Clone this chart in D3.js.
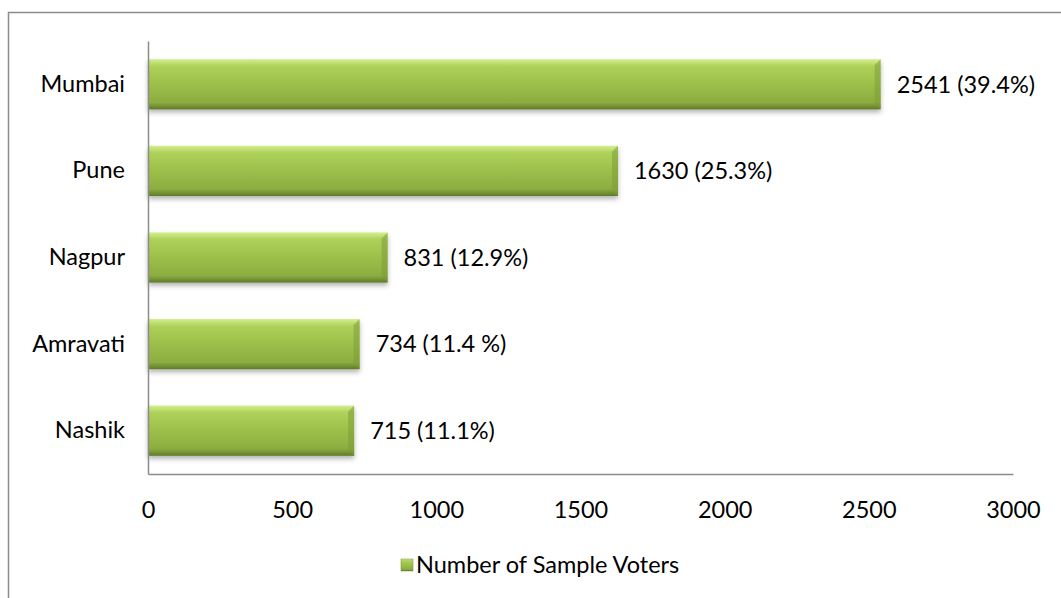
<!DOCTYPE html>
<html>
<head>
<meta charset="utf-8">
<script src="https://cdn.jsdelivr.net/npm/d3@7"></script>
<style>
  body { margin: 0; background: #fff; }
  svg text { font-family: Lato, "Open Sans", sans-serif; fill: #000; }
</style>
</head>
<body>
<svg id="chart"></svg>
<script>
// Chart data
const cities = ["Mumbai", "Pune", "Nagpur", "Amravati", "Nashik"];
const voters = [2541, 1630, 831, 734, 715];
const barLabels = ["2541 (39.4%)", "1630 (25.3%)", "831 (12.9%)", "734 (11.4 %)", "715 (11.1%)"];
const xTicks = [0, 500, 1000, 1500, 2000, 2500, 3000];
const seriesName = "Number of Sample Voters";

const width = 1061, height = 598;
const margin = {top: 41, left: 148, right: 48, bottom: 124};
const fontSize = "23.5px";

const svg = d3.select("#chart")
    .attr("width", width)
    .attr("height", height);

// Gradient for the bevelled bars
const defs = svg.append("defs");
const grad = defs.append("linearGradient")
    .attr("id", "barGrad")
    .attr("x1", 0).attr("y1", 0).attr("x2", 0).attr("y2", 1);
grad.append("stop").attr("offset", "0%").attr("stop-color", "#d3ef8e");
grad.append("stop").attr("offset", "14%").attr("stop-color", "#aed15a");
grad.append("stop").attr("offset", "50%").attr("stop-color", "#9cbf4a");
grad.append("stop").attr("offset", "86%").attr("stop-color", "#8cad40");
grad.append("stop").attr("offset", "100%").attr("stop-color", "#5f7a2a");

const shadow = defs.append("filter").attr("id", "shadow")
    .attr("x", "-5%").attr("y", "-20%").attr("width", "110%").attr("height", "150%");
shadow.append("feDropShadow")
    .attr("dx", 0).attr("dy", 3).attr("stdDeviation", 2.5)
    .attr("flood-color", "#000").attr("flood-opacity", 0.3);

// Outer frame
svg.append("rect")
    .attr("x", 8.5).attr("y", 12.5)
    .attr("width", width).attr("height", height)
    .attr("fill", "none")
    .attr("stroke", "#8c8c8c")
    .attr("stroke-width", 1.5);

// Scales
const xScale = d3.scaleLinear()
    .domain([0, 3000])
    .range([margin.left, width - margin.right]);

const yScale = d3.scaleBand()
    .domain(cities)
    .range([margin.top, height - margin.bottom])
    .paddingInner(0.42)
    .paddingOuter(0.21);

const plotBottom = height - margin.bottom;

// Bars
const data = cities.map((c, i) => ({city: c, value: voters[i], label: barLabels[i]}));

const bars = svg.append("g").selectAll("g")
    .data(data)
    .join("g");

bars.append("rect")
    .attr("x", xScale(0))
    .attr("y", d => yScale(d.city))
    .attr("width", d => xScale(d.value) - xScale(0))
    .attr("height", yScale.bandwidth())
    .attr("fill", "url(#barGrad)")
    .attr("filter", "url(#shadow)");

// Bevel on the right end
bars.append("path")
    .attr("d", d => {
        const x1 = xScale(d.value), y0 = yScale(d.city), h = yScale.bandwidth();
        return `M${x1},${y0} L${x1 - 6},${y0 + 6} L${x1 - 6},${y0 + h - 6} L${x1},${y0 + h} Z`;
    })
    .attr("fill", "#7e9c38")
    .attr("opacity", 0.55);

bars.append("text")
    .attr("x", d => xScale(d.value) + 16)
    .attr("y", d => yScale(d.city) + yScale.bandwidth() / 2)
    .attr("dy", "0.35em")
    .style("font-size", fontSize)
    .text(d => d.label);

// Axes
const xAxis = svg.append("g")
    .attr("transform", `translate(0,${plotBottom})`)
    .call(d3.axisBottom(xScale).tickValues(xTicks).tickFormat(d3.format("d")).tickSize(0).tickPadding(27));
xAxis.select(".domain").attr("stroke", "#8c8c8c").attr("stroke-width", 1.5);
xAxis.selectAll("text").style("font-size", fontSize).style("font-family", "Lato, sans-serif");

const yAxis = svg.append("g")
    .attr("transform", `translate(${margin.left},0)`)
    .call(d3.axisLeft(yScale).tickSize(0).tickPadding(23));
yAxis.select(".domain").attr("stroke", "#8c8c8c").attr("stroke-width", 1.5);
yAxis.selectAll("text").style("font-size", fontSize).style("font-family", "Lato, sans-serif");

// Legend
const legend = svg.append("g").attr("transform", "translate(401,565)");
legend.append("rect")
    .attr("x", 0).attr("y", -6)
    .attr("width", 12).attr("height", 12)
    .attr("fill", "url(#barGrad)")
    .attr("stroke", "#6f8a32").attr("stroke-width", 0.5);
legend.append("text")
    .attr("x", 15).attr("y", 0)
    .attr("dy", "0.35em")
    .style("font-size", fontSize)
    .text(seriesName);
</script>
</body>
</html>
